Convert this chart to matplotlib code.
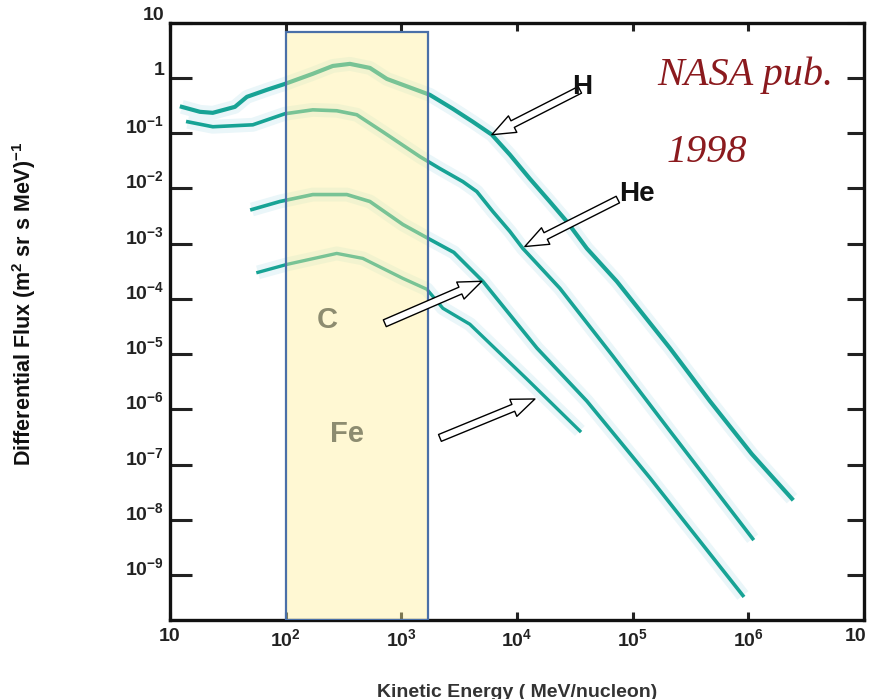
"""Cosmic ray differential flux vs kinetic energy (H, He, C, Fe),
redrawn after the NASA 1998 figure.
"""

import matplotlib

matplotlib.use("Agg")
import matplotlib.pyplot as plt
from matplotlib.ticker import FixedLocator, FixedFormatter, NullLocator
from matplotlib.transforms import ScaledTranslation

plt.rcParams["font.family"] = ["Liberation Sans", "DejaVu Sans"]
plt.rcParams["mathtext.fontset"] = "custom"
plt.rcParams["mathtext.rm"] = "Liberation Sans:bold"
plt.rcParams["mathtext.bf"] = "Liberation Sans:bold"
plt.rcParams["mathtext.it"] = "Liberation Sans:bold"

# energy in MeV/nucleon, flux in (m^2 sr s MeV)^-1
H_ENERGY = [12.7, 18.2, 23.5, 36.5, 46.4, 68.9, 98.6, 172, 256, 360, 536, 752, 1767,
            2790, 4160, 6070, 8690, 1.29e4, 1.92e4, 2.70e4, 4.02e4, 7.30e4, 2.10e5,
            4.65e5, 1.07e6, 2.38e6]
H_FLUX = [0.30, 0.244, 0.234, 0.30, 0.456, 0.61, 0.78, 1.19, 1.65, 1.80, 1.52, 0.96, 0.495,
          0.277, 0.161, 0.094, 4.09e-2, 1.51e-2, 5.81e-3, 2.52e-3, 8.22e-4, 2.08e-4,
          1.29e-5, 1.42e-6, 1.57e-7, 2.43e-8]

HE_ENERGY = [14.3, 23.5, 52.1, 98.6, 172, 277, 413, 693, 1450, 2160, 3410, 4500, 6190,
             8690, 1.125e4, 2.35e4, 6.75e4, 2.10e5, 1.09e6]
HE_FLUX = [0.161, 0.131, 0.142, 0.225, 0.265, 0.255, 0.216, 0.106, 3.77e-2, 2.29e-2,
           1.33e-2, 8.79e-3, 3.83e-3, 1.67e-3, 8.22e-4, 1.56e-4, 9.25e-6, 4.09e-7, 4.59e-9]

C_ENERGY = [51.2, 89.3, 172, 339, 536, 1033, 1767, 2850, 5070, 1.49e4, 4.02e4, 1.41e5, 8.97e5]
C_FLUX = [4.16e-3, 5.81e-3, 7.76e-3, 7.76e-3, 5.81e-3, 2.23e-3, 1.20e-3, 6.97e-4,
          2.09e-4, 1.29e-5, 1.42e-6, 5.80e-8, 4.30e-10]

FE_ENERGY = [57.7, 103, 277, 465, 1033, 1665, 2290, 3920, 1.22e4, 3.50e4]
FE_FLUX = [3.03e-4, 4.23e-4, 6.68e-4, 5.43e-4, 2.36e-4, 1.50e-4, 6.79e-5, 3.49e-5,
           3.55e-6, 4.09e-7]

# highlighted energy band (MeV/nucleon)
BAND = (100, 1700)

X_TICKS = [10, 1e2, 1e3, 1e4, 1e5, 1e6, 1e7]
X_TICK_LABELS = ["10", r"$10^2$", r"$10^3$", r"$10^4$", r"$10^5$", r"$10^6$", "10"]
Y_TICKS = [10, 1, 1e-1, 1e-2, 1e-3, 1e-4, 1e-5, 1e-6, 1e-7, 1e-8, 1e-9]
Y_TICK_LABELS = ["10", "1"] + [r"$10^{-%d}$" % k for k in range(1, 10)]

TEAL = "#17a395"
HALO = "#eaf6f9"


def main() -> None:
    fig = plt.figure(figsize=(8.71, 6.99), dpi=100)
    ax = fig.add_axes([0.195, 0.113, 0.797, 0.8545])
    ax.set_xscale("log")
    ax.set_yscale("log")
    ax.set_xlim(10, 1e7)
    ax.set_ylim(10 ** -9.81, 10)

    series = [(H_ENERGY, H_FLUX, 3.0), (HE_ENERGY, HE_FLUX, 2.6),
              (C_ENERGY, C_FLUX, 2.6), (FE_ENERGY, FE_FLUX, 2.4)]
    for energy, flux, lw in series:
        ax.plot(energy, flux, color=HALO, lw=10, zorder=1, solid_capstyle="butt")
    for energy, flux, lw in series:
        ax.plot(energy, flux, color=TEAL, lw=lw, zorder=2, solid_joinstyle="round")

    # yellow band, drawn over the curves so they show through lighter
    ax.axvspan(BAND[0], BAND[1], ymin=0, ymax=0.984, facecolor="#fff096", alpha=0.42,
               edgecolor="none", zorder=3)
    ax.axvspan(BAND[0], BAND[1], ymin=0, ymax=0.984, facecolor="none",
               edgecolor="#4a70a8", lw=1.6, zorder=4)

    # hollow pointer arrows
    arrow_style = dict(arrowstyle="simple,head_length=1.2,head_width=0.95,tail_width=0.38",
                       fc="white", ec="black", lw=1.0, shrinkA=0, shrinkB=0,
                       mutation_scale=14)
    arrows = [((6070, 0.094), (3.5e4, 0.61)),
              ((1.17e4, 8.9e-4), (7.45e4, 6.3e-3)),
              ((4970, 2.09e-4), (721, 3.64e-5)),
              ((1.43e4, 1.55e-6), (2160, 3.06e-7))]
    for tip, tail in arrows:
        ax.annotate("", xy=tip, xytext=tail, arrowprops=arrow_style, zorder=5)

    ax.text(3.7e4, 0.70, "H", fontsize=20, fontweight="bold", color="#111111",
            ha="center", va="center", zorder=6)
    ax.text(1.1e5, 7.8e-3, "He", fontsize=20, fontweight="bold", color="#111111",
            ha="center", va="center", zorder=6)
    ax.text(2.3e2, 4.2e-5, "C", fontsize=21, fontweight="bold", color="#8d8c70",
            ha="center", va="center", zorder=6)
    ax.text(3.4e2, 3.6e-7, "Fe", fontsize=21, fontweight="bold", color="#8d8c70",
            ha="center", va="center", zorder=6)

    ax.text(745, 624, "NASA pub.", transform=None, fontsize=29, style="italic",
            family="Liberation Serif", color="#8b1a1e", ha="center", va="center")
    ax.text(707, 546, "1998", transform=None, fontsize=29, style="italic",
            family="Liberation Serif", color="#8b1a1e", ha="center", va="center")

    ax.xaxis.set_major_locator(FixedLocator(X_TICKS))
    ax.xaxis.set_major_formatter(FixedFormatter(X_TICK_LABELS))
    ax.xaxis.set_minor_locator(NullLocator())
    ax.yaxis.set_major_locator(FixedLocator(Y_TICKS))
    ax.yaxis.set_major_formatter(FixedFormatter(Y_TICK_LABELS))
    ax.yaxis.set_minor_locator(NullLocator())

    ax.tick_params(axis="x", which="major", direction="in", length=6, width=2.2,
                   top=True, labelsize=14, pad=6, colors="#222222")
    ax.tick_params(axis="y", which="major", direction="in", length=12, width=2.2,
                   right=True, labelsize=14, pad=4, colors="#222222")
    for tick in ax.yaxis.get_major_ticks():
        tick.tick1line.set_color("#4fb3ad")
        tick.tick1line.set_markersize(16)

    lift = ScaledTranslation(0, 6.5 / 72, fig.dpi_scale_trans)
    for label in ax.get_yticklabels():
        label.set_fontweight("bold")
        label.set_transform(label.get_transform() + lift)
    xlabels = ax.get_xticklabels()
    for label in xlabels:
        label.set_fontweight("bold")
    # last "10" sits at the right edge, nudge it inside the figure
    xlabels[-1].set_transform(xlabels[-1].get_transform()
                              + ScaledTranslation(-6 / 72, 0, fig.dpi_scale_trans))

    for spine in ax.spines.values():
        spine.set_linewidth(2.4)
        spine.set_color("#111111")

    ax.set_xlabel("Kinetic Energy ( MeV/nucleon)", fontsize=14, fontweight="bold",
                  color="#333333", labelpad=24)
    ax.set_ylabel("Differential Flux (m$^2$ sr s MeV)$^{-1}$", fontsize=15.5,
                  fontweight="bold", family=["Liberation Sans Narrow", "Liberation Sans"],
                  color="#111111", labelpad=22)
    ax.yaxis.set_label_coords(-0.19, 0.53)

    fig.savefig("out.png", dpi=100, facecolor="white")


if __name__ == "__main__":
    main()
